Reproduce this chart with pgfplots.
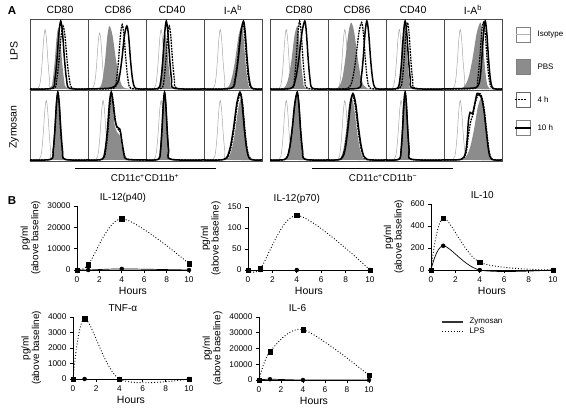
\documentclass[border=0pt]{standalone}
\usepackage{pgfplots}
\pgfplotsset{compat=1.18}
\usepackage{fontspec}
\setmainfont{Liberation Sans}
\pgfplotsset{
 hist/.style={width=58pt,height=71pt,scale only axis,xmin=0,xmax=100,ymin=-1.5,ymax=100,xtick=\empty,ytick=\empty,axis line style={black!70,line width=0.6pt},anchor=north west},
 iso/.style={black!35,line width=0.5pt,smooth,no markers},
 pbs/.style={draw=none,fill=black!45,smooth,no markers},
 four/.style={black,line width=1.3pt,dash pattern=on 1.8pt off 1pt,smooth,no markers},
 ten/.style={black,line width=1.5pt,smooth,no markers},
 cyto/.style={scale only axis, anchor=south west, axis lines=left, axis line style={-, line width=0.8pt}, xmin=0, xmax=10, ymin=0, xtick={0,2,4,6,8,10}, tick align=outside, major tick length=3pt, tick style={line width=0.8pt, black}, ticklabel style={font=\fontsize{8.3}{9}\selectfont}, xlabel={Hours}, ylabel={pg/ml\\(above baseline)}, ylabel style={align=center, font=\fontsize{10}{10.5}\selectfont}, xlabel style={font=\fontsize{10.5}{11}\selectfont, yshift=2pt}, clip=false, scaled y ticks=false, /pgf/number format/1000 sep={}, /pgf/number format/assume math mode=true, title style={font=\fontsize{10}{11}\selectfont, anchor=base}, enlargelimits=false},
 lps/.style={black, dotted, line width=0.9pt, smooth, no markers},
 zym/.style={black, line width=0.7pt, smooth, no markers},
 lpsm/.style={only marks, mark=square*, mark size=2.2pt, black},
 zymm/.style={only marks, mark=*, mark size=2pt, black},
}
\newcommand{\isoA}{\addplot[iso] coordinates {(0,0)(14,1)(18,12)(20.8,37)(23.6,71)(26,85)(28.4,71)(31.2,37)(34,12)(38,1)(100,0)};}
\newcommand{\isoB}{\addplot[iso] coordinates {(0,0)(16,1)(20,12)(22.8,37)(25.6,71)(28,85)(30.4,71)(33.2,37)(36,12)(40,1)(100,0)};}
\newcommand{\isoC}{\addplot[iso] coordinates {(0,0)(8,1)(12,11)(14.8,34)(17.6,67)(20,80)(22.4,67)(25.2,34)(28,11)(32,1)(100,0)};}
\newcommand{\isoD}{\addplot[iso] coordinates {(0,0)(11,1)(15,12)(17.8,37)(20.6,71)(23,85)(25.4,71)(28.2,37)(31,12)(35,1)(100,0)};}
\newcommand{\isoE}{\addplot[iso] coordinates {(0,0)(17,1)(21,12)(23.8,37)(26.6,71)(29,85)(31.4,71)(34.2,37)(37,12)(41,1)(100,0)};}
\newcommand{\fs}[1]{\fontsize{#1}{#1}\selectfont}
\begin{document}
\begin{tikzpicture}
\path[use as bounding box] (0,0) rectangle (566pt,-413pt);
% ---------- Panel A, left block, LPS row
\begin{axis}[hist, at={(30pt,-19pt)}]
\isoA
\addplot[pbs] coordinates {(0,0)(34,1)(39,12)(42.5,38)(46,74)(49,88)(52,74)(55.5,38)(59,12)(64,1)(100,0)} \closedcycle;
\addplot[four] coordinates {(0,0)(40.5,1)(46,13)(49.8,39)(53.7,76)(57,90)(60.3,76)(64.2,39)(68,13)(73.5,1)(100,0)};
\addplot[ten] coordinates {(0,0)(38,1)(43,14)(46.5,42)(50,81)(53,97)(56,81)(59.5,42)(63,14)(68,1)(100,0)};
\end{axis}
\begin{axis}[hist, at={(88pt,-19pt)}]
\isoC
\addplot[pbs] coordinates {(0,0)(19,1)(25,13)(29.2,39)(33.4,76)(37,90)(42.4,76)(48.7,39)(55,13)(64,1)(100,0)} \closedcycle;
\addplot[four] coordinates {(0,0)(44,1)(49,13)(52.5,40)(56,77)(59,92)(62,77)(65.5,40)(69,13)(74,1)(100,0)};
\addplot[ten] coordinates {(0,0)(35,1)(46,4)(53,13)(57.9,39)(62.8,76)(67,90)(70,76)(73.5,39)(77,13)(82,1)(100,0)};
\end{axis}
\begin{axis}[hist, at={(146pt,-19pt)}]
\isoA
\addplot[pbs] coordinates {(0,0)(19.5,1)(24,11)(27.1,34)(30.3,67)(33,80)(35.7,67)(38.9,34)(42,11)(46.5,1)(100,0)} \closedcycle;
\addplot[four] coordinates {(0,0)(26.5,1)(31,13)(34.1,39)(37.3,76)(40,90)(42.7,76)(45.9,39)(49,13)(53.5,1)(100,0)};
\addplot[ten] coordinates {(0,0)(21.5,1)(26,14)(29.1,42)(32.3,81)(35,97)(37.7,81)(40.9,42)(44,14)(48.5,1)(100,0)};
\end{axis}
\begin{axis}[hist, at={(204pt,-19pt)}]
\isoB
\addplot[pbs] coordinates {(0,0)(38,1)(47,13)(53.3,39)(59.6,76)(65,90)(68,76)(71.5,39)(75,13)(80,1)(100,0)} \closedcycle;
\addplot[four] coordinates {(0,0)(46,1)(53,13)(57.9,40)(62.8,78)(67,93)(70,78)(73.5,40)(77,13)(82,1)(100,0)};
\addplot[ten] coordinates {(0,0)(47,1)(54,14)(58.9,42)(63.8,81)(68,97)(71,81)(74.5,42)(78,14)(83,1)(100,0)};
\end{axis}
% ---------- left block, Zymosan row
\begin{axis}[hist, at={(30pt,-90pt)}]
\isoB
\addplot[pbs] coordinates {(0,0)(36,1)(40,13)(42.8,41)(45.6,80)(48,95)(50.4,80)(53.2,41)(56,13)(60,1)(100,0)} \closedcycle;
\addplot[four] coordinates {(0,0)(36,1)(40,13)(42.8,41)(45.6,80)(48,95)(50.4,80)(53.2,41)(56,13)(60,1)(100,0)};
\addplot[ten] coordinates {(0,0)(36,1)(40,14)(42.8,42)(45.6,81)(48,97)(50.4,81)(53.2,42)(56,14)(60,1)(100,0)};
\end{axis}
\begin{axis}[hist, at={(88pt,-90pt)}]
\isoA
\addplot[pbs] coordinates {(0,0)(23.5,1)(29,12)(32.8,38)(36.7,74)(40,88)(43,74)(46,50)(50,40)(55,35)(58,20)(62,6)(67,1)(100,0)} \closedcycle;
\addplot[four] coordinates {(0,0)(25,1)(30.5,13)(34.3,41)(38,80)(41,95)(44,80)(47.5,55)(51,45)(56,40)(59,24)(63,7)(68,1)(100,0)};
\addplot[ten] coordinates {(0,0)(24,1)(29.5,14)(33.3,42)(37,82)(40,97)(43,82)(46.5,58)(50,47)(55,44)(58,28)(62,8)(67,1)(100,0)};
\end{axis}
\begin{axis}[hist, at={(146pt,-90pt)}]
\isoA
\addplot[pbs] coordinates {(0,0)(21.5,1)(25,13)(27.4,41)(29.9,80)(32,95)(34.1,80)(36.6,41)(39,13)(42.5,1)(100,0)} \closedcycle;
\addplot[four] coordinates {(0,0)(21.5,1)(25,13)(27.4,41)(29.9,80)(32,95)(34.1,80)(36.6,41)(39,13)(42.5,1)(100,0)};
\addplot[ten] coordinates {(0,0)(21.5,1)(25,14)(27.4,42)(29.9,81)(32,97)(34.1,81)(36.6,42)(39,14)(42.5,1)(100,0)};
\end{axis}
\begin{axis}[hist, at={(204pt,-90pt)}]
\isoB
\addplot[pbs] coordinates {(0,0)(38,1)(47,13)(53.3,39)(59.6,76)(65,90)(68,76)(71.5,39)(75,13)(80,1)(100,0)} \closedcycle;
\addplot[four] coordinates {(0,0)(36,1)(45,13)(51.3,41)(57.6,80)(63,95)(66.6,80)(70.8,41)(75,13)(81,1)(100,0)};
\addplot[ten] coordinates {(0,0)(35,1)(44,14)(50.3,42)(56.6,81)(62,97)(65.6,81)(69.8,42)(74,14)(80,1)(100,0)};
\end{axis}
% ---------- right block, LPS row
\begin{axis}[hist, at={(270pt,-19pt)}]
\isoB
\addplot[pbs] coordinates {(0,0)(23,1)(31,13)(36.6,39)(42.2,76)(47,90)(50,76)(53.5,39)(57,13)(62,1)(100,0)} \closedcycle;
\addplot[four] coordinates {(0,0)(37.5,1)(42,14)(45.1,42)(48.3,81)(51,97)(53.7,81)(56.9,42)(60,14)(64.5,1)(100,0)};
\addplot[ten] coordinates {(0,0)(36,1)(44,14)(49.6,42)(55.2,81)(60,97)(62.7,81)(65.9,42)(69,14)(73.5,1)(100,0)};
\end{axis}
\begin{axis}[hist, at={(328pt,-19pt)}]
\isoE
\addplot[pbs] coordinates {(0,0)(16,1)(24,13)(29.6,41)(35.2,80)(40,95)(45.4,80)(51.7,41)(58,13)(67,1)(100,0)} \closedcycle;
\addplot[four] coordinates {(0,0)(34,1)(42,13)(47.6,41)(53.2,80)(58,95)(61,80)(64.5,41)(68,13)(73,1)(100,0)};
\addplot[ten] coordinates {(0,0)(52,1)(57,14)(60.5,42)(64,81)(67,97)(70,81)(73.5,42)(77,14)(82,1)(100,0)};
\end{axis}
\begin{axis}[hist, at={(386pt,-19pt)}]
\isoD
\addplot[pbs] coordinates {(0,0)(20,1)(24,13)(26.8,41)(29.6,80)(32,95)(34.4,80)(37.2,41)(40,13)(44,1)(100,0)} \closedcycle;
\addplot[four] coordinates {(0,0)(23.5,1)(28,13)(31.1,41)(34.3,80)(37,95)(39.7,80)(42.9,41)(46,13)(50.5,1)(100,0)};
\addplot[ten] coordinates {(0,0)(19.5,1)(24,14)(27.1,42)(30.3,81)(33,97)(35.7,81)(38.9,42)(42,14)(46.5,1)(100,0)};
\end{axis}
\begin{axis}[hist, at={(444pt,-19pt)}]
\isoB
\addplot[pbs] coordinates {(0,0)(30,1)(41,13)(48.7,41)(56.4,80)(63,95)(66,80)(69.5,41)(73,13)(78,1)(100,0)} \closedcycle;
\addplot[four] coordinates {(0,0)(53,1)(58,13)(61.5,41)(65,80)(68,95)(71,80)(74.5,41)(78,13)(83,1)(100,0)};
\addplot[ten] coordinates {(0,0)(45,1)(57.5,3)(62,14)(65.1,42)(68.3,81)(71,97)(73.7,81)(76.9,42)(80,14)(84.5,1)(100,0)};
\end{axis}
% ---------- right block, Zymosan row
\begin{axis}[hist, at={(270pt,-90pt)}]
\isoB
\addplot[pbs] coordinates {(0,0)(26,1)(33,13)(37.9,41)(42.8,80)(47,95)(49.7,80)(52.9,41)(56,13)(60.5,1)(100,0)} \closedcycle;
\addplot[four] coordinates {(0,0)(26,1)(33,13)(37.9,41)(42.8,80)(47,95)(49.7,80)(52.9,41)(56,13)(60.5,1)(100,0)};
\addplot[ten] coordinates {(0,0)(26,1)(33,14)(37.9,42)(42.8,81)(47,97)(49.7,81)(52.9,42)(56,14)(60.5,1)(100,0)};
\end{axis}
\begin{axis}[hist, at={(328pt,-90pt)}]
\isoE
\addplot[pbs] coordinates {(0,0)(19,1)(26,13)(30.9,39)(35.8,76)(40,90)(44.8,76)(50.4,39)(56,13)(64,1)(100,0)} \closedcycle;
\addplot[four] coordinates {(0,0)(21,1)(28,13)(32.9,40)(37.8,78)(42,93)(46.8,78)(52.4,40)(58,13)(66,1)(100,0)};
\addplot[ten] coordinates {(0,0)(22,1)(29,13)(33.9,41)(38.8,80)(43,95)(47.8,80)(53.4,41)(59,13)(67,1)(100,0)};
\end{axis}
\begin{axis}[hist, at={(386pt,-90pt)}]
\isoA
\addplot[pbs] coordinates {(0,0)(22.5,1)(26,14)(28.4,42)(30.9,81)(33,97)(35.1,81)(37.6,42)(40,14)(43.5,1)(100,0)} \closedcycle;
\addplot[four] coordinates {(0,0)(22.5,1)(26,14)(28.4,42)(30.9,81)(33,97)(35.1,81)(37.6,42)(40,14)(43.5,1)(100,0)};
\addplot[ten] coordinates {(0,0)(22.5,1)(26,14)(28.4,42)(30.9,81)(33,97)(35.1,81)(37.6,42)(40,14)(43.5,1)(100,0)};
\end{axis}
\begin{axis}[hist, at={(444pt,-90pt)}]
\isoB
\addplot[pbs] coordinates {(0,0)(32,1)(43,13)(50.7,39)(58.4,76)(65,90)(68.6,76)(72.8,39)(77,13)(83,1)(100,0)} \closedcycle;
\addplot[four] coordinates {(0,0)(30,1)(38,10)(42,35)(46,55)(50,65)(54,82)(58,92)(62,95)(66,88)(70,68)(74,38)(78,12)(83,1)(100,0)};
\addplot[ten] coordinates {(0,0)(30,1)(37,10)(40,30)(42,55)(45,68)(49,66)(53,80)(57,95)(61,93)(65,88)(69,70)(73,40)(77,13)(82,1)(100,0)};
\end{axis}
% ---------- Panel A text
\node[font=\bfseries\fs{11.5}] at (12pt,-11pt) {A};
\foreach \xx/\tt in {60/CD80,118/CD86,172/CD40,233/{I-A\textsuperscript{b}},299/CD80,357/CD86,413/CD40,473/{I-A\textsuperscript{b}}}
  \node[font=\fs{10.5}] at (\xx pt,-10pt) {\tt};
\node[font=\fs{10.5}, rotate=90] at (14pt,-51pt) {LPS};
\node[font=\fs{10.5}, rotate=90] at (14pt,-127pt) {Zymosan};
\draw[line width=0.9pt] (75pt,-168pt) -- (216pt,-168pt);
\draw[line width=0.9pt] (312pt,-168pt) -- (453pt,-168pt);
\node[font=\fs{9.8}] at (145pt,-178pt) {CD11c\textsuperscript{+}CD11b\textsuperscript{+}};
\node[font=\fs{9.8}] at (383pt,-178pt) {CD11c\textsuperscript{+}CD11b\textsuperscript{−}};
% legend A
\draw[black!50, line width=0.5pt] (516pt,-27pt) rectangle (530pt,-42pt);
\draw[black!30, line width=0.8pt] (516pt,-34.5pt) -- (530pt,-34.5pt);
\draw[black!50, line width=0.5pt, fill=black!45] (516pt,-59pt) rectangle (530pt,-74pt);
\draw[black!60, line width=0.5pt] (516pt,-92pt) rectangle (530pt,-107pt);
\draw[black, line width=1.6pt, dash pattern=on 1.6pt off 1.4pt] (515pt,-99.5pt) -- (526pt,-99.5pt);
\draw[black!50, line width=0.5pt] (516pt,-120pt) rectangle (530pt,-135pt);
\draw[black, line width=2pt] (515pt,-127.5pt) -- (531pt,-127.5pt);
\node[font=\fs{8}, anchor=west] at (534pt,-34.5pt) {Isotype};
\node[font=\fs{8}, anchor=west] at (534pt,-66.5pt) {PBS};
\node[font=\fs{8}, anchor=west] at (534pt,-99.5pt) {4 h};
\node[font=\fs{8}, anchor=west] at (534pt,-127.5pt) {10 h};
% ---------- Panel B
\node[font=\bfseries\fs{11.5}] at (12pt,-201pt) {B};
\begin{axis}[cyto, at={(77pt,-270pt)}, width=112pt, height=64pt, ymax=30000, ytick={0,10000,20000,30000}, title={IL-12(p40)}, title style={at={(axis description cs:0.41,1)}}]
\addplot[lps] coordinates {(0,0)(1,2500)(4,24000)(10,3000)};
\addplot[lpsm] coordinates {(0,0)(1,2500)(4,24000)(10,3000)};
\addplot[zym] coordinates {(0,0)(1,0)(4,500)(10,0)};
\addplot[zymm] coordinates {(0,0)(1,0)(4,500)(10,0)};
\end{axis}
\begin{axis}[cyto, at={(248pt,-270pt)}, width=122pt, height=63pt, ymax=150, ytick={0,50,100,150}, title={IL-12(p70)}, title style={at={(axis description cs:0.40,1)}}]
\addplot[lps] coordinates {(0,0)(1,3)(4,130)(10,0)};
\addplot[lpsm] coordinates {(0,0)(1,3)(4,130)(10,0)};
\addplot[zym] coordinates {(0,0)(1,0)(4,0)(10,0)};
\addplot[zymm] coordinates {(0,0)(1,0)(4,0)(10,0)};
\end{axis}
\begin{axis}[cyto, at={(431pt,-270pt)}, width=122pt, height=66pt, ymax=600, ytick={0,200,400,600}, title={IL-10}, title style={at={(axis description cs:0.42,1)}}]
\addplot[lps] coordinates {(0,0)(1,470)(4,70)(10,0)};
\addplot[lpsm] coordinates {(0,0)(1,470)(4,70)(10,0)};
\addplot[zym] coordinates {(0,0)(1,220)(4,0)(10,0)};
\addplot[zymm] coordinates {(0,0)(1,220)(4,0)(10,0)};
\end{axis}
\begin{axis}[cyto, at={(73pt,-379pt)}, width=116pt, height=62pt, ymax=4000, ytick={0,1000,2000,3000,4000}, title={TNF-α}, title style={at={(axis description cs:0.43,1)}}]
\addplot[lps] coordinates {(0,0)(1,3900)(4,0)(10,0)};
\addplot[lpsm] coordinates {(0,0)(1,3900)(4,0)(10,0)};
\addplot[zym] coordinates {(0,0)(1,0)(4,0)(10,0)};
\addplot[zymm] coordinates {(0,0)(1,0)(4,0)(10,0)};
\end{axis}
\begin{axis}[cyto, at={(259pt,-380pt)}, width=110pt, height=63pt, ymax=40000, ytick={0,10000,20000,30000,40000}, title={IL-6}, title style={at={(axis description cs:0.35,1)}}]
\addplot[lps] coordinates {(0,0)(1,18000)(4,32000)(10,3000)};
\addplot[lpsm] coordinates {(0,0)(1,18000)(4,32000)(10,3000)};
\addplot[zym] coordinates {(0,0)(1,500)(4,0)(10,0)};
\addplot[zymm] coordinates {(0,0)(1,500)(4,0)(10,0)};
\end{axis}
% legend B
\draw[black!80, line width=1.2pt] (442pt,-322pt) -- (463pt,-322pt);
\draw[black, dotted, line width=0.9pt] (442pt,-331pt) -- (463pt,-331pt);
\node[font=\fs{8}, anchor=west] at (466pt,-322pt) {Zymosan};
\node[font=\fs{8}, anchor=west] at (466pt,-331pt) {LPS};
\end{tikzpicture}
\end{document}
